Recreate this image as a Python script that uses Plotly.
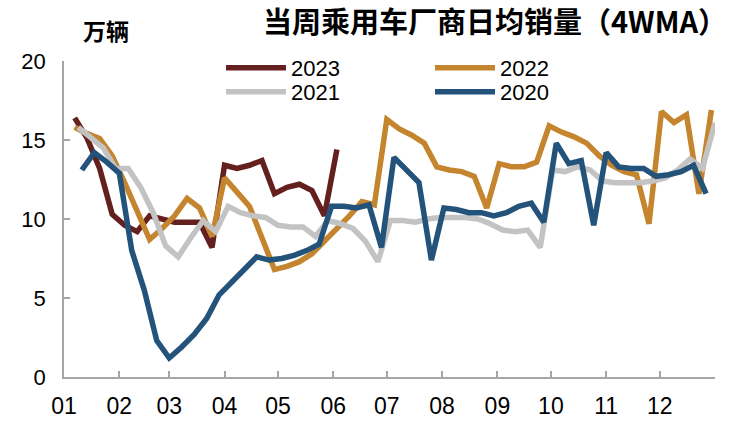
import numpy as np
import plotly.graph_objects as go

# ---- data ----
months = ["01", "02", "03", "04", "05", "06", "07", "08", "09", "10", "11", "12"]
month_start_day = [0, 31, 59, 90, 120, 151, 181, 212, 243, 273, 304, 334]

s2023 = [16.4, 15.1, 13.2, 10.3, 9.6, 9.2, 10.2, 10.0, 9.8, 9.8, 9.8, 8.2, 13.4, 13.2, 13.4, 13.7,
         11.6, 12.0, 12.2, 11.8, 10.2, 14.4]
s2022 = [15.8, 15.4, 15.1, 14.0, 12.3, 10.4, 8.7, 9.4, 10.2, 11.3, 10.7, 8.9, 12.6, 11.7, 10.8, 8.8,
         6.8, 7.0, 7.3, 7.8, 8.6, 9.3, 10.2, 11.1, 10.9, 16.3, 15.7, 15.3, 14.8, 13.3, 13.1, 13.0,
         12.7, 10.7, 13.5, 13.3, 13.3, 13.6, 15.9, 15.5, 15.2, 14.8, 14.0, 13.4, 13.0, 12.8, 9.7,
         16.8, 16.1, 16.6, 11.6, 16.9]
s2021 = [15.8, 15.2, 14.5, 13.2, 13.2, 12.0, 10.4, 8.3, 7.6, 8.8, 9.9, 9.2, 10.8, 10.4, 10.2, 10.1,
         9.6, 9.5, 9.5, 8.9, 9.9, 9.7, 9.4, 8.6, 7.3, 9.9, 9.9, 9.8, 10.0, 10.1, 10.1, 10.1, 10.0,
         9.7, 9.3, 9.2, 9.3, 8.2, 13.1, 13.0, 13.3, 13.1, 12.4, 12.3, 12.3, 12.3, 12.4, 12.6, 13.1,
         13.8, 13.2, 16.1]
s2020 = [13.1, 14.2, 13.6, 12.9, 8.0, 5.5, 2.3, 1.2, 1.9, 2.7, 3.7, 5.2, 6.0, 6.8, 7.6, 7.4, 7.5,
         7.7, 8.0, 8.4, 10.8, 10.8, 10.7, 10.9, 8.2, 13.9, 13.1, 12.3, 7.4, 10.7, 10.6, 10.4, 10.4,
         10.2, 10.4, 10.8, 11.0, 9.8, 14.8, 13.5, 13.7, 9.6, 14.2, 13.3, 13.2, 13.2, 12.7, 12.8,
         13.0, 13.4, 11.6]

# first week-ending day (days since Jan 1) for each year
first_day = {"2023": 6, "2022": 6, "2021": 8, "2020": 10}

series = [
    ("2023", s2023, "#64201F", "legend"),
    ("2022", s2022, "#C4852E", "legend"),
    ("2021", s2021, "#C3C3C3", "legend2"),
    ("2020", s2020, "#23537A", "legend2"),
]

fig = go.Figure()
for name, vals, color, lg in series:
    days = first_day[name] + 7 * np.arange(len(vals))
    fig.add_trace(go.Scatter(
        x=days, y=vals, mode="lines", name=name,
        line=dict(color=color, width=5.5), legend=lg,
    ))

W, H = 742, 422
L, R, T, B = 64, 27, 61, 45
PW, PH = W - L - R, H - T - B
tick_font = dict(family="Liberation Sans Narrow, Arial Narrow, Liberation Sans, Arial", size=23, color="black")
axis_col = "#A6A6A6"
leg_font = dict(family="Liberation Sans, Arial", size=22, color="black")

fig.update_layout(
    width=W, height=H,
    margin=dict(l=L, r=R, t=T, b=B, autoexpand=False),
    plot_bgcolor="white", paper_bgcolor="white",
    showlegend=True,
    title=dict(
        text="<b>当周乘用车厂商日均销量（4WMA）</b>",
        x=495 / W, xref="container", xanchor="center",
        y=1 - 23 / H, yref="container", yanchor="middle",
        font=dict(family="Noto Sans CJK SC", size=29, color="black"),
    ),
    legend=dict(
        orientation="h", x=(221 - L) / PW, xanchor="left",
        y=1 - (68 - T) / PH, yanchor="middle",
        font=leg_font, entrywidth=134, bgcolor="rgba(0,0,0,0)", itemwidth=60,
    ),
    legend2=dict(
        orientation="h", x=(221 - L) / PW, xanchor="left",
        y=1 - (92 - T) / PH, yanchor="middle",
        font=leg_font, entrywidth=134, bgcolor="rgba(0,0,0,0)", itemwidth=60,
    ),
    annotations=[dict(
        text="<b>万辆</b>", xref="paper", yref="paper",
        x=(106 - L) / PW, y=1 + (T - 30) / PH,
        xanchor="center", yanchor="middle", showarrow=False,
        font=dict(family="Noto Sans CJK SC", size=23, color="black"),
    )],
)

fig.update_xaxes(
    range=[0, 365], tickvals=month_start_day, ticktext=months, automargin=False,
    showline=True, linecolor=axis_col, linewidth=1.5,
    ticks="inside", ticklen=6, tickcolor=axis_col, tickwidth=1.5,
    showgrid=False, zeroline=False, tickfont=tick_font, ticklabelstandoff=8,
)
fig.update_yaxes(
    range=[0, 20], tickvals=[0, 5, 10, 15, 20], automargin=False,
    showline=True, linecolor=axis_col, linewidth=1.5,
    ticks="inside", ticklen=6, tickcolor=axis_col, tickwidth=1.5,
    showgrid=False, zeroline=False,
    tickfont=dict(family="Liberation Sans, Arial", size=22, color="black"),
    ticklabelstandoff=12,
)

fig.write_html("out.html", config={"displayModeBar": False},
               post_script="document.body.style.margin='0';")
